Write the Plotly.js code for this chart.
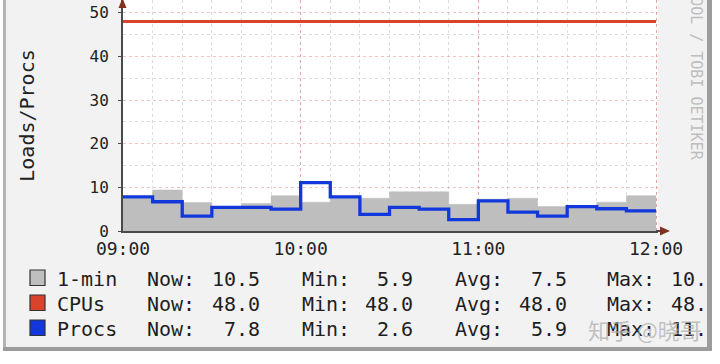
<!DOCTYPE html>
<html>
<head>
<meta charset="utf-8">
<script src="https://cdn.plot.ly/plotly-3.0.1.min.js"></script>
<style>html,body{margin:0;padding:0;background:#fff;}#chart{width:720px;height:364px;}</style>
</head>
<body>
<div id="chart"></div>
<script>
// ---- data ----
const times = ['2024-01-01 09:00','2024-01-01 09:10','2024-01-01 09:20','2024-01-01 09:30','2024-01-01 09:40','2024-01-01 09:50',
               '2024-01-01 10:00','2024-01-01 10:10','2024-01-01 10:20','2024-01-01 10:30','2024-01-01 10:40','2024-01-01 10:50',
               '2024-01-01 11:00','2024-01-01 11:10','2024-01-01 11:20','2024-01-01 11:30','2024-01-01 11:40','2024-01-01 11:50',
               '2024-01-01 12:00'];
const load1min = [7.5, 9.4, 6.5, 5.5, 6.3, 8.1, 6.6, 7.5, 7.5, 9.0, 9.0, 6.1, 7.3, 7.5, 5.6, 5.6, 6.6, 8.1, 8.1];
const cpus     = [48, 48, 48, 48, 48, 48, 48, 48, 48, 48, 48, 48, 48, 48, 48, 48, 48, 48, 48];
const procs    = [7.8, 6.7, 3.4, 5.4, 5.4, 5.0, 11.1, 7.8, 3.8, 5.4, 5.0, 2.6, 6.9, 4.3, 3.4, 5.6, 5.1, 4.6, 4.6];

const seriesNames = ['1-min', 'CPUs', 'Procs'];
const statNow = ['10.5', '48.0', '7.8'];
const statMin = ['5.9', '48.0', '2.6'];
const statAvg = ['7.5', '48.0', '5.9'];
const statMax = ['10.5', '48.0', '11.1'];
const xTickVals = ['2024-01-01 09:00','2024-01-01 10:00','2024-01-01 11:00','2024-01-01 12:00'];
const xTickText = ['09:00','10:00','11:00','12:00'];

// ---- style ----
const W = 720, H = 364;
const L = 123, R = 658, T = 0, B = 231;
const px = v => (v - L) / (R - L);
const py = v => (B - v) / (B - T);
const colGray = '#bebebe', colRed = '#d9422b', colBlue = '#1238dc';
const mono = 'DejaVu Sans Mono';

const traces = [
  {x: times, y: load1min, type: 'scatter', mode: 'lines', line: {shape: 'hv', width: 0.5, color: colGray},
   fill: 'tozeroy', fillcolor: colGray, name: seriesNames[0], hoverinfo: 'skip'},
  {x: times, y: cpus, type: 'scatter', mode: 'lines', line: {shape: 'hv', width: 3, color: colRed}, name: seriesNames[1]},
  {x: times, y: procs, type: 'scatter', mode: 'lines', line: {shape: 'hv', width: 3.3, color: colBlue}, name: seriesNames[2]}
];

const shapes = [];
const annotations = [];
// frame
shapes.push({type:'rect', xref:'paper', yref:'paper', x0:px(0), x1:px(3), y0:py(0), y1:py(H), fillcolor:'#ffffff', line:{width:0}});
shapes.push({type:'rect', xref:'paper', yref:'paper', x0:px(0), x1:px(W), y0:py(351), y1:py(H), fillcolor:'#ffffff', line:{width:0}});
shapes.push({type:'rect', xref:'paper', yref:'paper', x0:px(712), x1:px(W), y0:py(0), y1:py(H), fillcolor:'#ffffff', line:{width:0}});
shapes.push({type:'rect', xref:'paper', yref:'paper', x0:px(3), x1:px(6), y0:py(0), y1:py(350), fillcolor:'#b4b4b4', line:{width:0}});
shapes.push({type:'rect', xref:'paper', yref:'paper', x0:px(3), x1:px(712), y0:py(347), y1:py(351), fillcolor:'#9c9c9c', line:{width:0}});
shapes.push({type:'rect', xref:'paper', yref:'paper', x0:px(707), x1:px(712), y0:py(0), y1:py(351), fillcolor:'#9c9c9c', line:{width:0}});
// axis extension + arrows
shapes.push({type:'line', xref:'paper', yref:'paper', x0:px(656), x1:px(663), y0:py(231), y1:py(231), line:{color:'#4a4a4a', width:2}});
shapes.push({type:'path', xref:'paper', yref:'paper',
  path:`M ${px(660)} ${py(226.5)} L ${px(670)} ${py(231)} L ${px(660)} ${py(235.5)} Z`, fillcolor:'#7e341e', line:{width:0}});
shapes.push({type:'path', xref:'paper', yref:'paper',
  path:`M ${px(118.5)} ${py(8)} L ${px(122.5)} ${py(-2)} L ${px(126.5)} ${py(8)} Z`, fillcolor:'#7e341e', line:{width:0}});

// legend
const rowY = [278.5, 303.5, 328.5];
const boxColors = [colGray, colRed, colBlue];
rowY.forEach((yc, i) => {
  shapes.push({type:'rect', xref:'paper', yref:'paper', x0:px(30), x1:px(45), y0:py(yc-8.5), y1:py(yc+7), fillcolor:boxColors[i], line:{color:'#333', width:1.2}});
  const f = {family: mono, size: 20, color: '#1e1e1e'};
  const add = (text, x, anchor) => annotations.push({xref:'paper', yref:'paper', x:px(x), y:py(yc), text, showarrow:false,
      xanchor:anchor, yanchor:'middle', font:f, borderpad:0});
  add(seriesNames[i], 56, 'left');
  add('Now:', 146, 'left');
  add(statNow[i], 261, 'right');
  add('Min:', 301, 'left');
  add(statMin[i], 414, 'right');
  add('Avg:', 454, 'left');
  add(statAvg[i], 568, 'right');
  add('Max:', 606, 'left');
  add(statMax[i], 720, 'right');
});
// watermark
annotations.push({xref:'paper', yref:'paper', x:px(645), y:py(329), text:'知乎 @晓哥', showarrow:false,
  font:{family:'Noto Sans CJK SC', size:22, color:'rgba(175,175,175,0.75)'}, xanchor:'center', yanchor:'middle'});
// frame pieces drawn over legend text (clip)
annotations.push({xref:'paper', yref:'paper', x:px(707), y:py(262), text:' ', showarrow:false, xanchor:'left', yanchor:'top',
  width:5, height:89, bgcolor:'#9c9c9c', borderpad:0, borderwidth:0});
annotations.push({xref:'paper', yref:'paper', x:px(712), y:py(262), text:' ', showarrow:false, xanchor:'left', yanchor:'top',
  width:8, height:102, bgcolor:'#ffffff', borderpad:0, borderwidth:0});
// vertical signature
annotations.push({xref:'paper', yref:'paper', x:px(696), y:py(61), text:'RRDTOOL / TOBI OETIKER', showarrow:false, textangle:90,
  font:{family:mono, size:15, color:'#bdbdbd'}, xanchor:'center', yanchor:'middle'});

const layout = {
  width: W, height: H,
  margin: {l: L, r: W - R, t: T, b: H - B, pad: 0},
  paper_bgcolor: '#f2f2f2', plot_bgcolor: '#ffffff',
  showlegend: false,
  xaxis: {
    type: 'date', range: ['2024-01-01 09:00', '2024-01-01 12:00:40'],
    tickvals: xTickVals, ticktext: xTickText,
    showgrid: true, gridcolor: 'rgba(222,49,49,0.3)', griddash: 'dot', gridwidth: 1,
    minor: {dtick: 600000, showgrid: true, gridcolor: 'rgba(140,140,140,0.3)', griddash: 'dot', gridwidth: 1},
    showline: true, linecolor: '#4a4a4a', linewidth: 2, zeroline: false,
    ticks: '', ticklabelstandoff: 0,
    tickfont: {family: mono, size: 18, color: '#222'}
  },
  yaxis: {
    range: [0, 52.9], dtick: 10, tick0: 0,
    showgrid: true, gridcolor: 'rgba(222,49,49,0.3)', griddash: 'dot', gridwidth: 1,
    minor: {dtick: 5, showgrid: true, gridcolor: 'rgba(140,140,140,0.3)', griddash: 'dot', gridwidth: 1},
    showline: true, linecolor: '#4a4a4a', linewidth: 2, zeroline: false,
    ticks: 'outside', ticklen: 3, tickcolor: '#4a4a4a', ticklabelstandoff: 6,
    tickfont: {family: mono, size: 16, color: '#222'},
    title: {text: 'Loads/Procs', font: {family: mono, size: 20, color: '#222'}, standoff: 50}
  },
  shapes, annotations
};

Plotly.newPlot('chart', traces, layout, {displayModeBar: false, staticPlot: true});
</script>
</body>
</html>
